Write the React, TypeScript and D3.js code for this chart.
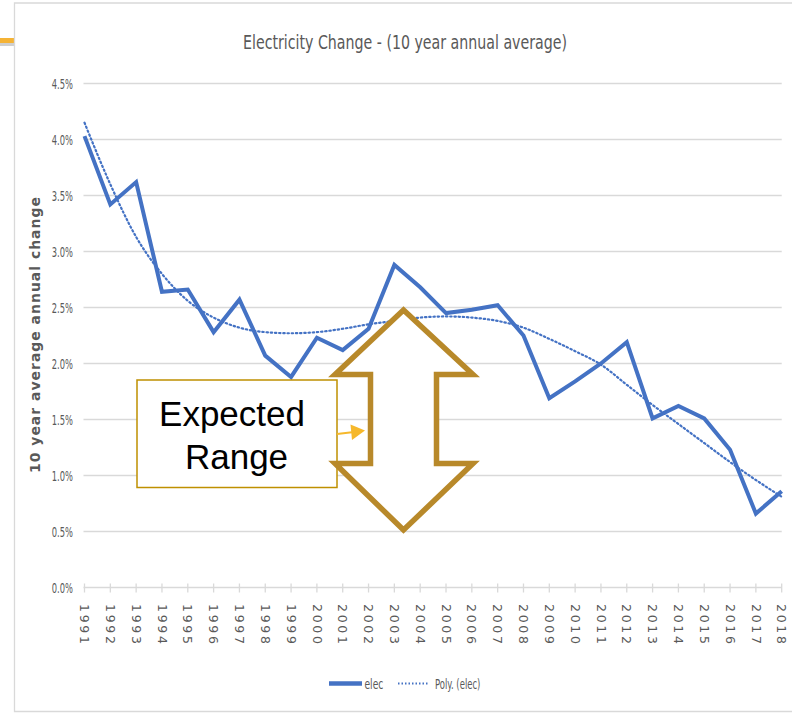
import React from 'react';
import * as d3 from 'd3';

const years = [
  '1991', '1992', '1993', '1994', '1995', '1996', '1997', '1998', '1999', '2000',
  '2001', '2002', '2003', '2004', '2005', '2006', '2007', '2008', '2009', '2010',
  '2011', '2012', '2013', '2014', '2015', '2016', '2017', '2018',
];

// 10 year average annual change (%)
const elec = [
  4.03, 3.42, 3.62, 2.64, 2.66, 2.28, 2.57, 2.07, 1.88, 2.23,
  2.12, 2.31, 2.88, 2.68, 2.45, 2.48, 2.52, 2.25, 1.69, 1.84,
  2.0, 2.19, 1.51, 1.62, 1.51, 1.23, 0.66, 0.86,
];

// polynomial trendline
const polyElec = [
  4.15, 3.6, 3.13, 2.8, 2.56, 2.41, 2.32, 2.28, 2.27, 2.28,
  2.31, 2.35, 2.38, 2.41, 2.42, 2.41, 2.38, 2.32, 2.22, 2.11,
  1.99, 1.81, 1.63, 1.46, 1.29, 1.12, 0.96, 0.81,
];

const yTicks = [0, 0.5, 1, 1.5, 2, 2.5, 3, 3.5, 4, 4.5];

const W = 792;
const H = 713;
const BLUE = '#4472C4';
const GRID = '#D9D9D9';
const TEXT = '#595959';
const GOLD = '#B8892A';
const narrow = "'Liberation Sans Narrow', 'DejaVu Sans Condensed', 'DejaVu Sans', sans-serif";

const App = () => {
  const x = d3.scalePoint<string>().domain(years).range([84.5, 781.7]);
  const y = d3.scaleLinear().domain([0, 4.5]).range([587.5, 83.5]);

  const line = d3
    .line<number>()
    .x((_, i) => x(years[i]) as number)
    .y(d => y(d));

  const trend = d3
    .line<number>()
    .x((_, i) => x(years[i]) as number)
    .y(d => y(d))
    .curve(d3.curveMonotoneX);

  // double arrow annotation (Expected Range)
  const cx = 403.5;
  const arrow = [
    [cx, 310], [473, 374.5], [436.5, 374.5], [436.5, 463.5], [473, 463.5],
    [cx, 530], [335, 463.5], [370.5, 463.5], [370.5, 374.5], [335, 374.5],
  ];

  return (
    <svg width={W} height={H} style={{ position: 'absolute', left: 0, top: 0, display: 'block' }}>
      <rect x={0} y={0} width={W} height={H} fill="#fff" />
      {/* slide decoration */}
      <rect x={0} y={38} width={15} height={5} fill="#F5B335" />
      <rect x={0} y={43} width={15} height={3} fill="#cfcfcf" />
      {/* chart frame */}
      <path d={`M${W},3 H14.5 V711.5 H${W}`} fill="none" stroke={GRID} strokeWidth={1.3} />

      <text x={405} y={49} textAnchor="middle" fontFamily={narrow} fontSize={19} fill={TEXT}
        textLength={324} lengthAdjust="spacingAndGlyphs">
        Electricity Change - (10 year annual average)
      </text>

      {/* gridlines + y labels */}
      {yTicks.map(t => (
        <g key={t}>
          {t > 0 && (
            <line x1={83.5} x2={781.7} y1={y(t)} y2={y(t)} stroke={GRID} strokeWidth={1.3} />
          )}
          <text transform={`translate(73,${y(t)}) scale(0.64,1)`} dy="0.35em" textAnchor="end"
            fontFamily={narrow} fontSize={14.5} fill={TEXT}>
            {t.toFixed(1)}%
          </text>
        </g>
      ))}

      <text transform="translate(40,335) rotate(-90)" textAnchor="middle" fontFamily="'DejaVu Sans', sans-serif"
        fontSize={14} fontWeight="bold" fill={TEXT} textLength={276} lengthAdjust="spacing">
        10 year average annual change
      </text>

      {/* x axis */}
      <line x1={83.5} x2={781.7} y1={y(0)} y2={y(0)} stroke={GRID} strokeWidth={1.3} />
      {years.map(yr => (
        <g key={yr}>
          <line x1={x(yr)} x2={x(yr)} y1={y(0) - 4} y2={y(0) + 5} stroke={GRID} strokeWidth={1.3} />
          <text transform={`translate(${x(yr)},604) rotate(90)`} dy="0.35em" fontFamily="'DejaVu Sans', sans-serif"
            fontSize={12.5} fill={TEXT} textLength={40} lengthAdjust="spacing">
            {yr}
          </text>
        </g>
      ))}

      {/* series */}
      <path d={trend(polyElec) ?? ''} fill="none" stroke={BLUE} strokeWidth={2.2} strokeDasharray="1.4 2.8"
        strokeLinecap="round" />
      <path d={line(elec) ?? ''} fill="none" stroke={BLUE} strokeWidth={4} strokeLinejoin="miter" />

      {/* legend */}
      <line x1={329} x2={362} y1={683.5} y2={683.5} stroke={BLUE} strokeWidth={4.5} />
      <text transform="translate(364.5,688.5) scale(0.7,1)" fontFamily={narrow} fontSize={14.5} fill={TEXT}>elec</text>
      <line x1={398} x2={429} y1={683.5} y2={683.5} stroke={BLUE} strokeWidth={2} strokeDasharray="1.5 2" />
      <text transform="translate(435,688.5) scale(0.65,1)" fontFamily={narrow} fontSize={14.5} fill={TEXT}>Poly. (elec)</text>

      {/* annotation */}
      <rect x={137} y={380} width={200} height={107.5} fill="#fff" stroke="#BF9000" strokeWidth={1.5} />
      <text x={232} y={425.5} textAnchor="middle" fontFamily="'Liberation Sans', Arial, sans-serif" fontSize={35} fill="#000">
        Expected
      </text>
      <text x={236.5} y={468.5} textAnchor="middle" fontFamily="'Liberation Sans', Arial, sans-serif" fontSize={35} fill="#000">
        Range
      </text>
      <line x1={337} y1={434} x2={352} y2={432.2} stroke="#F6B82B" strokeWidth={2} />
      <path d="M365,430.5 L350.5,424.5 L352,440 Z" fill="#F6B82B" />
      <path d={'M' + arrow.map(p => p.join(',')).join('L') + 'Z'} fill="#fff" stroke={GOLD} strokeWidth={5.5}
        strokeLinejoin="miter" />
    </svg>
  );
};

export default App;
